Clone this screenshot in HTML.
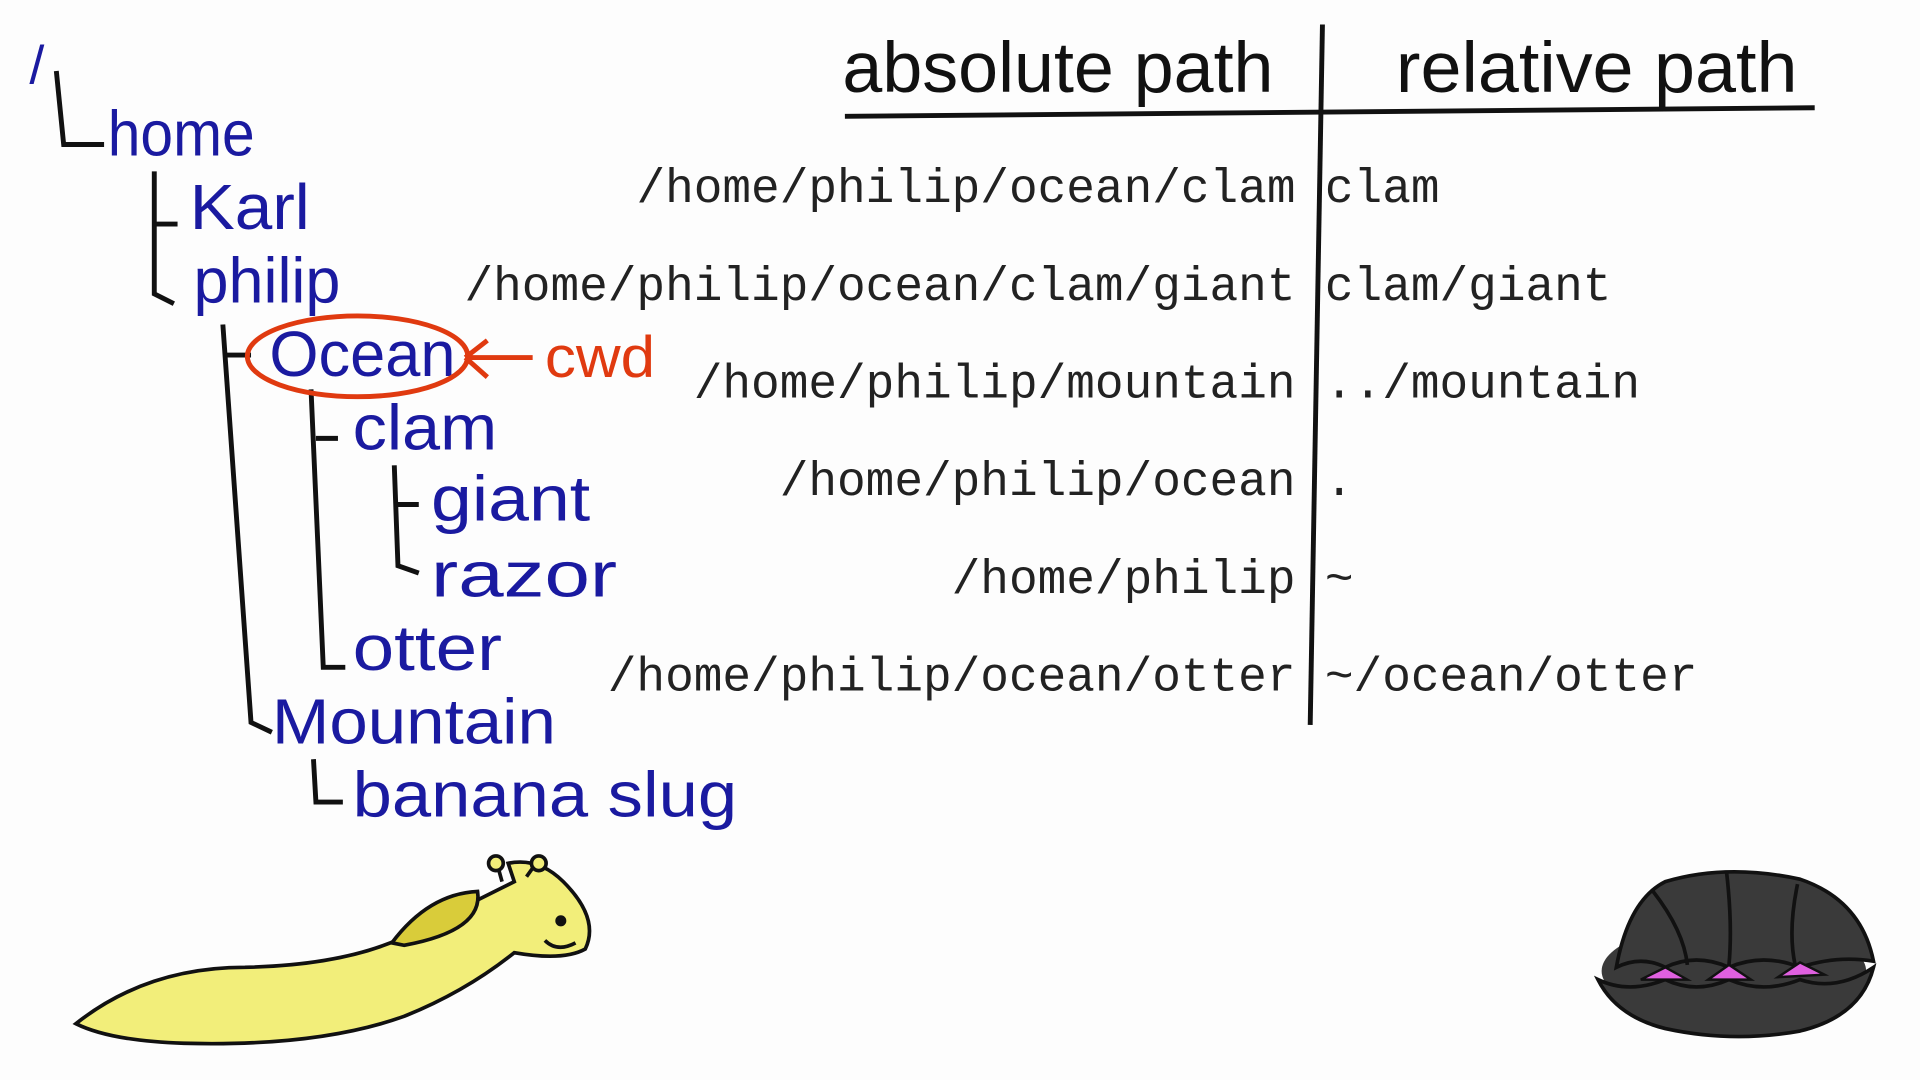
<!DOCTYPE html>
<html><head><meta charset="utf-8"><style>
html,body{margin:0;padding:0;background:#fdfdfd;width:1920px;height:1080px;overflow:hidden}
svg{display:block}
.hand{font-family:"Liberation Sans","DejaVu Sans",sans-serif;fill:#1a1aa0}
.mono{font-family:"Liberation Mono","DejaVu Sans Mono",monospace;font-size:39px;fill:#222}
</style></head><body>
<svg id="s" width="1920" height="1080" viewBox="0 0 1568 882" xmlns="http://www.w3.org/2000/svg">
<rect width="1568" height="882" fill="#fdfdfd"/>
<g font-family="Liberation Sans, sans-serif" fill="#111">
<text x="688" y="75" font-size="58" textLength="352" lengthAdjust="spacingAndGlyphs">absolute path</text>
<text x="1140" y="75" font-size="58" textLength="328" lengthAdjust="spacingAndGlyphs">relative path</text>
</g>
<path d="M690 95 Q1080 90 1482 88" stroke="#111" stroke-width="4" fill="none"/>
<path d="M1080 20 Q1076 300 1070 592" stroke="#111" stroke-width="4" fill="none"/>
<g stroke="#111" stroke-width="4" fill="none">
<path d="M46 58 L52 118 L85 118"/>
<path d="M126 140 L126 240 L142 248"/>
<path d="M126 183 L145 183"/>
<path d="M182 265 L205 590 L222 598"/>
<path d="M184 290 L205 290"/>
<path d="M254 318 L264 545 L282 545"/>
<path d="M258 358 L276 358"/>
<path d="M322 380 L325 462 L342 468"/>
<path d="M322 412 L342 412"/>
<path d="M256 620 L258 655 L280 655"/>
</g>
<g class="hand">
<text x="24" y="68" font-size="44">/</text>
<text x="88" y="127" font-size="52" textLength="120" lengthAdjust="spacingAndGlyphs">home</text>
<text x="155" y="187" font-size="52" textLength="98" lengthAdjust="spacingAndGlyphs">Karl</text>
<text x="158" y="247" font-size="52" textLength="120" lengthAdjust="spacingAndGlyphs">philip</text>
<text x="220" y="307" font-size="52" textLength="152" lengthAdjust="spacingAndGlyphs">Ocean</text>
<text x="288" y="367" font-size="52" textLength="118" lengthAdjust="spacingAndGlyphs">clam</text>
<text x="352" y="425" font-size="52" textLength="130" lengthAdjust="spacingAndGlyphs">giant</text>
<text x="352" y="487" font-size="52" textLength="152" lengthAdjust="spacingAndGlyphs">razor</text>
<text x="288" y="547" font-size="52" textLength="122" lengthAdjust="spacingAndGlyphs">otter</text>
<text x="222" y="607" font-size="52" textLength="232" lengthAdjust="spacingAndGlyphs">Mountain</text>
<text x="288" y="667" font-size="52" textLength="314" lengthAdjust="spacingAndGlyphs">banana slug</text>
</g>
<g>
<ellipse cx="292" cy="291" rx="90" ry="33" fill="none" stroke="#e03a10" stroke-width="4"/>
<path d="M380 292 L435 292 M380 292 L398 278 M380 292 L398 308" stroke="#e03a10" stroke-width="4" fill="none"/>
<text x="445" y="308" font-family="Liberation Sans, sans-serif" font-size="48" fill="#e03a10" textLength="90" lengthAdjust="spacingAndGlyphs">cwd</text>
</g>
<g id="rows"></g>
<g stroke="#111" stroke-width="3">
<path d="M62 836 Q120 790 200 790 Q290 788 340 760 Q400 730 420 720 L415 705 Q440 700 460 720 Q490 750 478 775 Q460 785 420 778 Q380 810 330 830 Q260 855 150 852 Q90 850 62 836 Z" fill="#f2ee7a"/>
<path d="M320 770 Q350 730 390 728 Q395 760 330 772 Z" fill="#d9cc3a"/>
<path d="M410 720 L405 702 M430 716 L440 702" fill="none"/>
<circle cx="405" cy="705" r="6" fill="#f2ee7a"/><circle cx="440" cy="705" r="6" fill="#f2ee7a"/>
<circle cx="458" cy="752" r="3" fill="#111"/>
<path d="M445 768 Q455 778 470 770" fill="none"/>
</g>
<g stroke="#111" stroke-width="3">
<ellipse cx="1416" cy="793" rx="108" ry="40" fill="#3a3a3a" stroke="none"/>
<path d="M1305 800 Q1320 830 1360 840 Q1415 852 1470 842 Q1520 830 1530 790 Q1500 810 1470 800 Q1440 812 1412 800 Q1385 812 1360 800 Q1330 812 1305 800 Z" fill="#3a3a3a"/>
<path d="M1320 790 Q1330 735 1360 720 Q1410 705 1470 718 Q1520 735 1530 785 Q1500 780 1470 790 Q1440 778 1412 790 Q1385 778 1360 790 Q1340 780 1320 790 Z" fill="#3a3a3a"/>
<path d="M1340 800 L1360 790 L1378 800 Z M1395 800 L1412 788 L1430 800 Z M1452 798 L1470 786 L1490 796 Z" fill="#e060e0" stroke-width="2"/>
<path d="M1350 728 Q1375 760 1378 788 M1410 712 Q1415 755 1412 788 M1468 722 Q1460 760 1466 788" fill="none"/>
</g>
<script>
const absolutePaths = ["/home/philip/ocean/clam","/home/philip/ocean/clam/giant","/home/philip/mountain","/home/philip/ocean","/home/philip","/home/philip/ocean/otter"];
const relativePaths = ["clam","clam/giant","../mountain",".","~","~/ocean/otter"];
const NS="http://www.w3.org/2000/svg";
const g=document.getElementById('rows');
function rowY(i){return 165+i*79.8;}
absolutePaths.forEach((p,i)=>{
  const t=document.createElementNS(NS,'text');
  t.setAttribute('class','mono');t.setAttribute('x',1058);t.setAttribute('y',rowY(i));
  t.setAttribute('text-anchor','end');t.textContent=p;
  
  
  g.appendChild(t);
  const r=document.createElementNS(NS,'text');
  r.setAttribute('class','mono');r.setAttribute('x',1082);r.setAttribute('y',rowY(i));
  r.textContent=relativePaths[i];
  
  
  g.appendChild(r);
});
</script>
</svg>
</body></html>
